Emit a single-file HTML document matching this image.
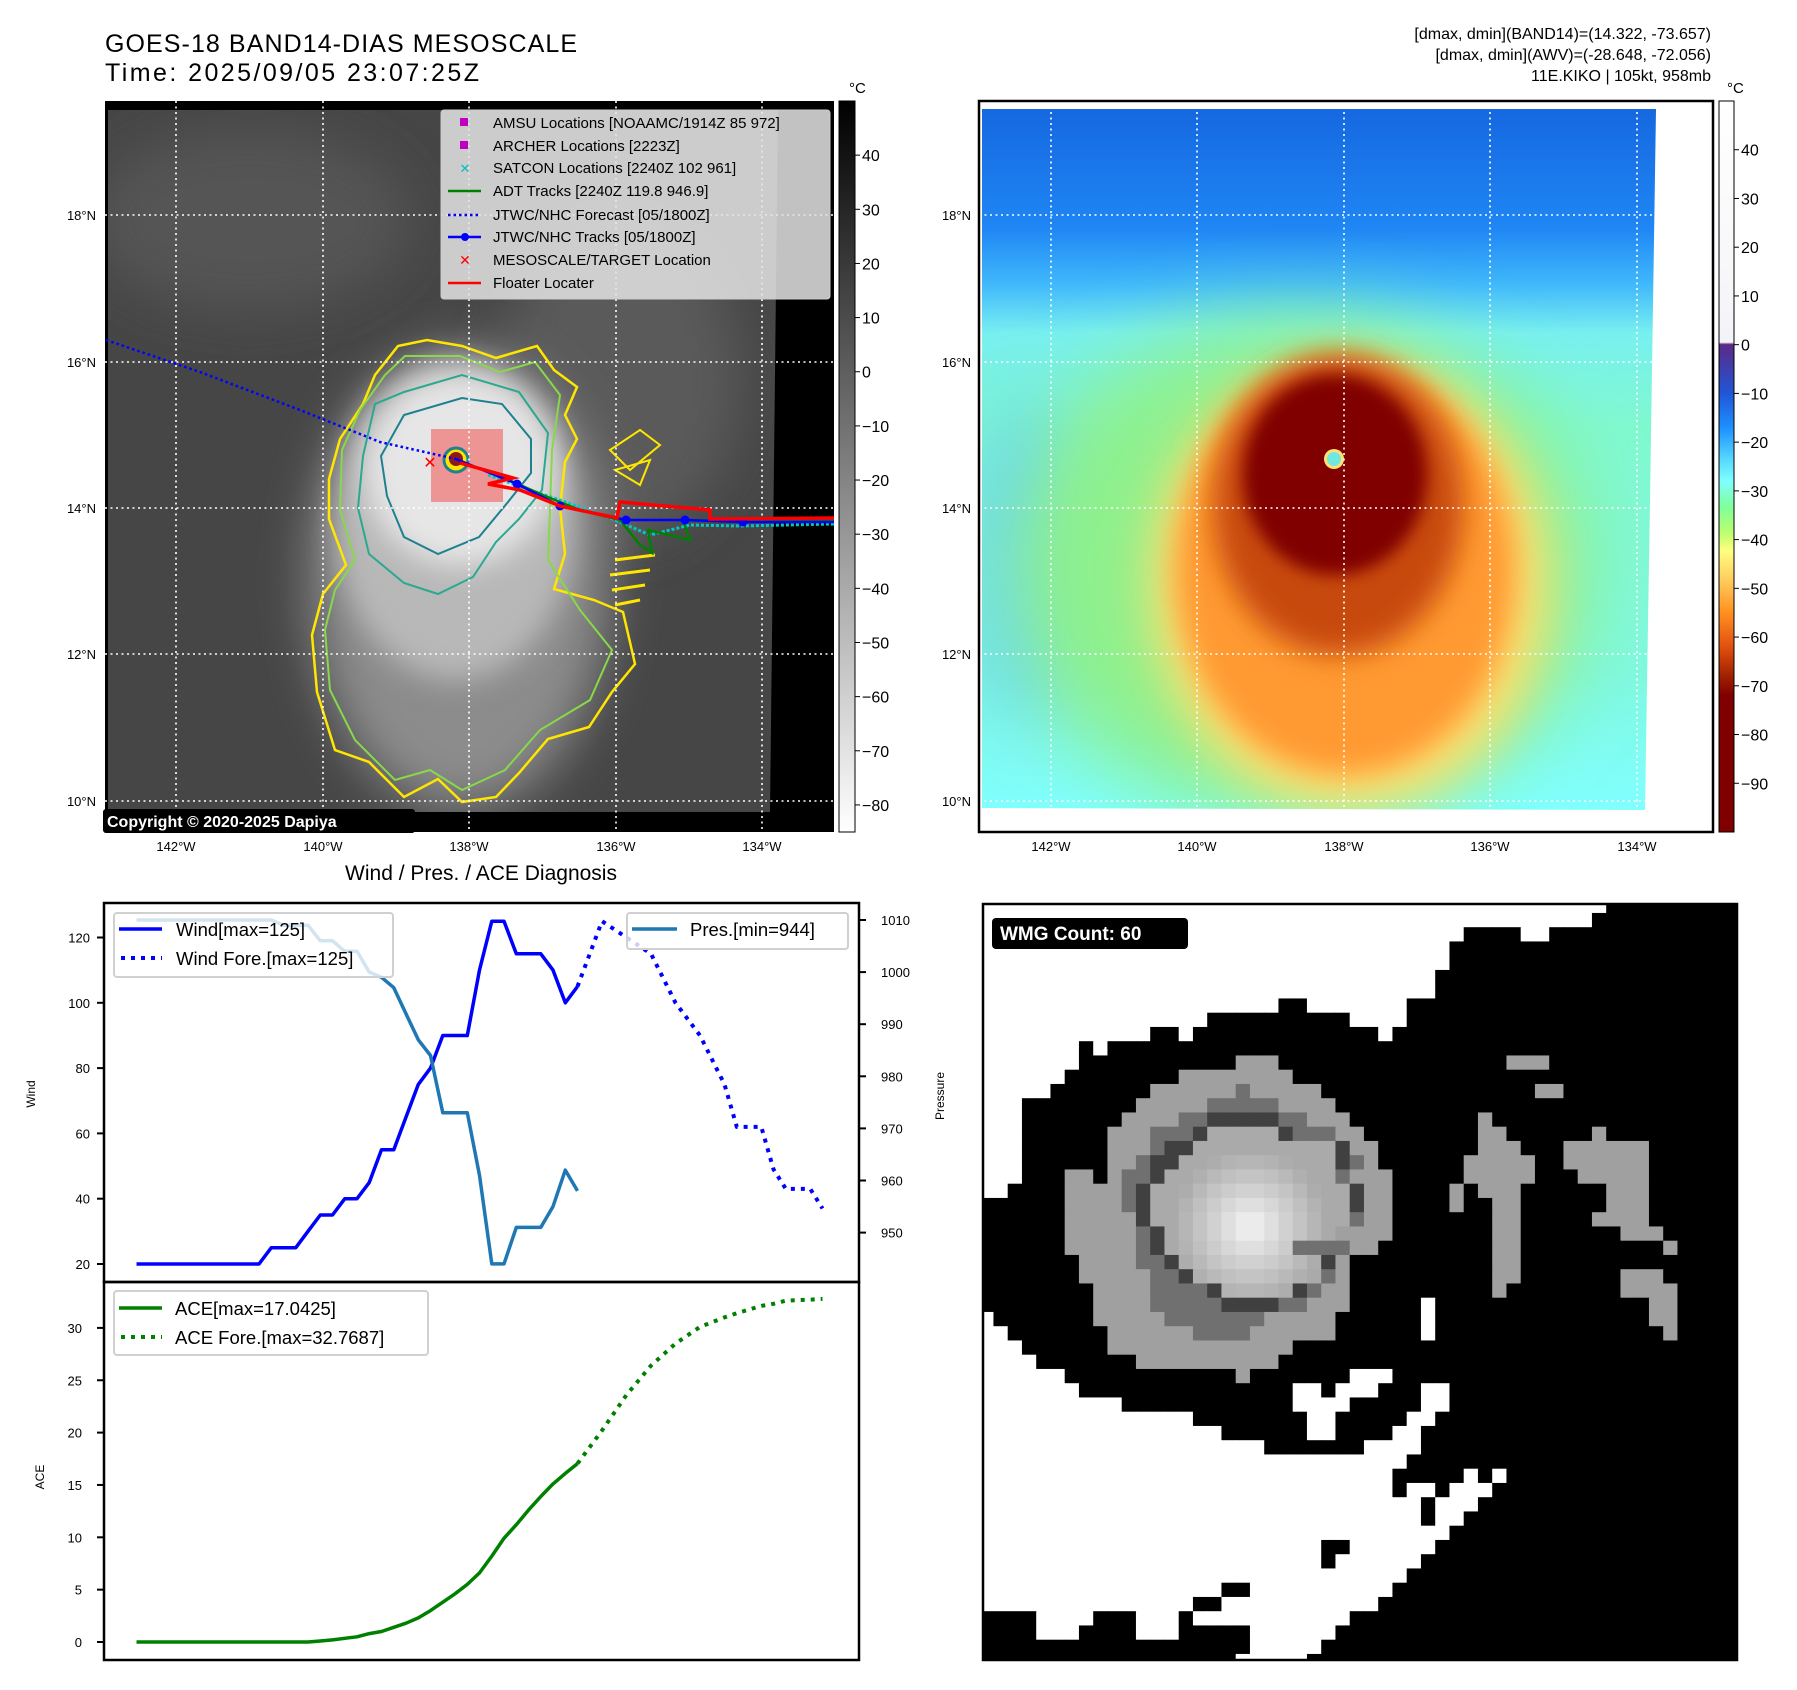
<!DOCTYPE html>
<html><head><meta charset="utf-8">
<style>
html,body{margin:0;padding:0;background:#fff;}
svg{display:block;font-family:"Liberation Sans","DejaVu Sans",sans-serif;}
</style></head>
<body>
<svg id="root" xmlns="http://www.w3.org/2000/svg" width="1797" height="1690" viewBox="0 0 1797 1690">
<defs>
  <linearGradient id="grayBar" x1="0" y1="0" x2="0" y2="1">
    <stop offset="0" stop-color="#000"/><stop offset="1" stop-color="#fff"/>
  </linearGradient>
  <linearGradient id="colorBar" x1="0" y1="0" x2="0" y2="1">
    <stop offset="0" stop-color="#ffffff"/>
    <stop offset="0.33" stop-color="#f4f4f8"/>
    <stop offset="0.333" stop-color="#5a2a86"/>
    <stop offset="0.40" stop-color="#2156d6"/>
    <stop offset="0.447" stop-color="#1e90ff"/>
    <stop offset="0.49" stop-color="#55d8ff"/>
    <stop offset="0.52" stop-color="#80ffff"/>
    <stop offset="0.555" stop-color="#80ff9a"/>
    <stop offset="0.59" stop-color="#b8ff70"/>
    <stop offset="0.615" stop-color="#ffff80"/>
    <stop offset="0.653" stop-color="#ffd060"/>
    <stop offset="0.70" stop-color="#ff9020"/>
    <stop offset="0.747" stop-color="#e05010"/>
    <stop offset="0.787" stop-color="#a02000"/>
    <stop offset="0.813" stop-color="#800000"/>
    <stop offset="1" stop-color="#800000"/>
  </linearGradient>
  <linearGradient id="envBase" x1="0" y1="109" x2="0" y2="810" gradientUnits="userSpaceOnUse">
    <stop offset="0" stop-color="#1668e0"/>
    <stop offset="0.17" stop-color="#1f86f4"/>
    <stop offset="0.25" stop-color="#40b8fb"/>
    <stop offset="0.32" stop-color="#78f0f0"/>
    <stop offset="0.45" stop-color="#80f8d0"/>
    <stop offset="0.8" stop-color="#80f8e0"/>
    <stop offset="1" stop-color="#80ffff"/>
  </linearGradient>
  <filter id="blur8" x="-1" y="-1" width="3" height="3"><feGaussianBlur stdDeviation="8"/></filter>
  <filter id="blur14" x="-1" y="-1" width="3" height="3"><feGaussianBlur stdDeviation="14"/></filter>
  <filter id="blur25" x="-1" y="-1" width="3" height="3"><feGaussianBlur stdDeviation="25"/></filter>
  <filter id="blur40" x="-1" y="-1" width="3" height="3"><feGaussianBlur stdDeviation="40"/></filter>
  <clipPath id="leftMapClip"><polygon points="108,110 778,110 770,812 108,812"/></clipPath>
  <clipPath id="leftFrameClip"><rect x="105" y="101" width="729" height="731"/></clipPath>
  <clipPath id="rightMapClip"><polygon points="982,109 1656,109 1650,500 1645,810 982,808"/></clipPath>
  <clipPath id="wmgClip"><rect x="983" y="904" width="754" height="756"/></clipPath>
</defs>

<text x="105" y="52" font-size="25" textLength="472">GOES-18 BAND14-DIAS MESOSCALE</text>
<text x="105" y="81" font-size="25" textLength="374">Time: 2025/09/05 23:07:25Z</text>
<g font-size="16" text-anchor="end">
  <text x="1711" y="39">[dmax, dmin](BAND14)=(14.322, -73.657)</text>
  <text x="1711" y="60">[dmax, dmin](AWV)=(-28.648, -72.056)</text>
  <text x="1711" y="81">11E.KIKO | 105kt, 958mb</text>
</g>

<!-- LEFT MAP -->
<g id="leftMap">
  <rect x="105" y="101" width="729" height="731" fill="#000"/>
  <g clip-path="url(#leftMapClip)">
    <rect x="108" y="110" width="670" height="702" fill="#464646"/>
    <ellipse cx="250" cy="220" rx="160" ry="90" fill="#555" filter="url(#blur25)"/>
    <ellipse cx="620" cy="380" rx="120" ry="160" fill="#5a5a5a" filter="url(#blur25)"/>
    <ellipse cx="460" cy="580" rx="150" ry="230" fill="#8c8c8c" filter="url(#blur25)"/>
    <ellipse cx="455" cy="520" rx="120" ry="160" fill="#b8b8b8" filter="url(#blur14)"/>
    <ellipse cx="460" cy="470" rx="95" ry="95" fill="#e6e6e6" filter="url(#blur14)"/>
    <path d="M398,346 L427,340 L462,346 L496,358 L537,346 L554,370 L577,387 L565,415 L577,439 L565,462 L560,508 L565,554 L554,589 L594,600 L623,612 L635,664 L612,692 L589,727 L548,739 L519,773 L496,797 L462,802 L438,779 L404,797 L369,762 L335,750 L317,692 L312,635 L323,594 L346,565 L329,519 L329,479 L340,439 L363,404 L375,375 Z" fill="none" stroke="#ffe600" stroke-width="2.5"/>
    <path d="M405,356 L460,356 L500,372 L535,362 L560,395 L552,450 L550,510 L548,560 L580,610 L612,650 L590,700 L540,730 L505,770 L462,790 L430,770 L395,780 L355,740 L330,690 L325,630 L335,590 L355,560 L340,510 L342,450 L360,410 L385,375 Z" fill="none" stroke="#88d84a" stroke-width="2"/>
    <path d="M375,404 L404,392 L462,375 L519,392 L548,433 L542,490 L519,519 L496,542 L473,577 L438,594 L404,583 L369,554 L358,508 L363,456 Z" fill="none" stroke="#2aa890" stroke-width="2"/>
    <path d="M404,415 L462,398 L502,404 L531,439 L531,473 L508,502 L479,537 L438,554 L404,537 L387,496 L381,456 Z" fill="none" stroke="#1f8090" stroke-width="2"/>
    <path d="M610,450 L640,430 L660,445 L630,470 Z M615,470 L650,460 L640,485 Z" fill="none" stroke="#ffe600" stroke-width="2"/>
    <path d="M615,560 L655,555 M610,575 L650,570 M612,590 L645,585 M615,605 L640,600" stroke="#ffe600" stroke-width="3"/>
    <rect x="431" y="429" width="72" height="73" fill="#f07070" fill-opacity="0.7"/>
    <circle cx="456" cy="460" r="12" fill="#ffe600" stroke="#1f8090" stroke-width="3"/>
    <circle cx="456" cy="459" r="7" fill="#8b1a1a"/>
  </g>
  <g stroke="#fff" stroke-width="1.6" stroke-dasharray="2,3.5" fill="none">
    <line x1="176" y1="101" x2="176" y2="832"/><line x1="323" y1="101" x2="323" y2="832"/><line x1="469" y1="101" x2="469" y2="832"/><line x1="616" y1="101" x2="616" y2="832"/><line x1="762" y1="101" x2="762" y2="832"/>
    <line x1="105" y1="215" x2="834" y2="215"/><line x1="105" y1="362" x2="834" y2="362"/><line x1="105" y1="508" x2="834" y2="508"/><line x1="105" y1="654" x2="834" y2="654"/><line x1="105" y1="801" x2="834" y2="801"/>
  </g>
  <g clip-path="url(#leftFrameClip)">
    <polyline points="106,340 200,372 300,410 380,442 456,459" fill="none" stroke="#0000ff" stroke-width="2.5" stroke-dasharray="2.5,3"/>
    <polyline points="488,475 530,490 560,500 610,518 650,535 690,525 740,526 834,524" fill="none" stroke="#00c8c8" stroke-width="3" stroke-dasharray="3,2"/>
    <polyline points="500,476 545,496 580,510 620,520 640,545 652,553 648,530 690,540 683,520 740,522 834,520" fill="none" stroke="#008000" stroke-width="2.5"/>
    <polyline points="456,459 517,484 560,506 626,520 685,520 743,522 834,522" fill="none" stroke="#0000ff" stroke-width="2.5"/>
    <g fill="#0000ff"><circle cx="517" cy="484" r="4.5"/><circle cx="560" cy="506" r="4.5"/><circle cx="626" cy="520" r="4.5"/><circle cx="685" cy="520" r="4.5"/><circle cx="743" cy="522" r="4.5"/></g>
    <polyline points="460,463 513,478 488,484 520,490 560,506 617,518 620,502 710,510 710,519 834,518" fill="none" stroke="#ff0000" stroke-width="3.5"/>
    <text x="430" y="468" font-size="16" font-weight="bold" fill="#ff0000" text-anchor="middle">✕</text>
  </g>
  <rect x="103" y="809" width="312" height="24" rx="3" fill="#000"/>
  <text x="107" y="827" font-size="16" font-weight="bold" fill="#fff">Copyright © 2020-2025 Dapiya</text>
  <g>
    <rect x="441" y="110" width="389" height="189" rx="3" fill="#e4e4e4" fill-opacity="0.85" stroke="#ccc"/>
    <g font-size="15">
      <rect x="460" y="118" width="8" height="8" fill="#c000c0"/>
      <text x="493" y="128">AMSU Locations [NOAAMC/1914Z 85 972]</text>
      <rect x="460" y="141" width="8" height="8" fill="#c000c0"/>
      <text x="493" y="151">ARCHER Locations [2223Z]</text>
      <text x="465" y="173" font-size="13" fill="#00c0c0" text-anchor="middle">✕</text>
      <text x="493" y="173">SATCON Locations [2240Z 102 961]</text>
      <line x1="448" y1="191" x2="481" y2="191" stroke="#008000" stroke-width="2.5"/>
      <text x="493" y="196">ADT Tracks [2240Z 119.8 946.9]</text>
      <line x1="448" y1="215" x2="481" y2="215" stroke="#0000ff" stroke-width="2.5" stroke-dasharray="2.5,3"/>
      <text x="493" y="220">JTWC/NHC Forecast [05/1800Z]</text>
      <line x1="448" y1="237" x2="481" y2="237" stroke="#0000ff" stroke-width="2.5"/><circle cx="465" cy="237" r="4" fill="#0000ff"/>
      <text x="493" y="242">JTWC/NHC Tracks [05/1800Z]</text>
      <text x="465" y="265" font-size="14" font-weight="bold" fill="#ff0000" text-anchor="middle">✕</text>
      <text x="493" y="265">MESOSCALE/TARGET Location</text>
      <line x1="448" y1="283" x2="481" y2="283" stroke="#ff0000" stroke-width="2.5"/>
      <text x="493" y="288">Floater Locater</text>
    </g>
  </g>
  <g font-size="13" text-anchor="end">
    <text x="96" y="220">18°N</text><text x="96" y="367">16°N</text><text x="96" y="513">14°N</text><text x="96" y="659">12°N</text><text x="96" y="806">10°N</text>
  </g>
  <g font-size="13" text-anchor="middle">
    <text x="176" y="851">142°W</text><text x="323" y="851">140°W</text><text x="469" y="851">138°W</text><text x="616" y="851">136°W</text><text x="762" y="851">134°W</text>
  </g>
  <rect x="839" y="101" width="16" height="731" fill="url(#grayBar)" stroke="#000" stroke-width="1"/>
  <text x="849" y="93" font-size="15">°C</text>
  <g id="leftCbTicks" font-size="16"></g>
</g>

<!-- RIGHT MAP -->
<g id="rightMap">
  <rect x="979" y="101" width="734" height="731" fill="#fff"/>
  <g clip-path="url(#rightMapClip)">
    <rect x="979" y="105" width="680" height="710" fill="url(#envBase)"/>
    <ellipse cx="1030" cy="560" rx="60" ry="160" fill="#60c8ff" filter="url(#blur40)" opacity="0.8"/>
    <ellipse cx="1300" cy="570" rx="290" ry="250" fill="#8ef08c" filter="url(#blur40)"/>
    <ellipse cx="1350" cy="585" rx="200" ry="225" fill="#ffe070" filter="url(#blur25)"/>
    <ellipse cx="1345" cy="570" rx="170" ry="205" fill="#ff9a30" filter="url(#blur14)"/>
    <ellipse cx="1338" cy="505" rx="125" ry="150" fill="#c84a10" filter="url(#blur14)"/>
    <ellipse cx="1335" cy="475" rx="92" ry="100" fill="#800000" filter="url(#blur8)"/>
    <circle cx="1334" cy="459" r="10" fill="#ffe070"/>
    <circle cx="1334" cy="459" r="7" fill="#70e8e0"/>
  </g>
  <g stroke="#fff" stroke-width="1.6" stroke-dasharray="2,3.5" fill="none">
    <line x1="1051" y1="101" x2="1051" y2="832"/><line x1="1197" y1="101" x2="1197" y2="832"/><line x1="1344" y1="101" x2="1344" y2="832"/><line x1="1490" y1="101" x2="1490" y2="832"/><line x1="1637" y1="101" x2="1637" y2="832"/>
    <line x1="979" y1="215" x2="1713" y2="215"/><line x1="979" y1="362" x2="1713" y2="362"/><line x1="979" y1="508" x2="1713" y2="508"/><line x1="979" y1="654" x2="1713" y2="654"/><line x1="979" y1="801" x2="1713" y2="801"/>
  </g>
  <rect x="979" y="101" width="734" height="731" fill="none" stroke="#000" stroke-width="2.5"/>
  <g font-size="13" text-anchor="end">
    <text x="971" y="220">18°N</text><text x="971" y="367">16°N</text><text x="971" y="513">14°N</text><text x="971" y="659">12°N</text><text x="971" y="806">10°N</text>
  </g>
  <g font-size="13" text-anchor="middle">
    <text x="1051" y="851">142°W</text><text x="1197" y="851">140°W</text><text x="1344" y="851">138°W</text><text x="1490" y="851">136°W</text><text x="1637" y="851">134°W</text>
  </g>
  <rect x="1719" y="101" width="15" height="731" fill="url(#colorBar)" stroke="#000" stroke-width="1"/>
  <text x="1727" y="93" font-size="15">°C</text>
  <g id="rightCbTicks" font-size="16"></g>
</g>

<!-- DIAGNOSIS CHART -->
<text x="481" y="880" font-size="21" text-anchor="middle">Wind / Pres. / ACE Diagnosis</text>
<g id="chart">
  <rect x="104" y="903" width="755" height="379" fill="#fff"/>
  <rect x="104" y="1282" width="755" height="378" fill="#fff"/>
  <g id="chartMarks"></g>
  <rect x="104" y="903" width="755" height="379" fill="none" stroke="#000" stroke-width="2.5"/>
  <rect x="104" y="1282" width="755" height="378" fill="none" stroke="#000" stroke-width="2.5"/>
  <g id="chartAxes" font-size="13"></g>
  <text transform="translate(35,1094) rotate(-90)" font-size="12" text-anchor="middle">Wind</text>
  <text transform="translate(944,1096) rotate(-90)" font-size="12" text-anchor="middle">Pressure</text>
  <text transform="translate(44,1477) rotate(-90)" font-size="12" text-anchor="middle">ACE</text>
  <g>
    <rect x="114" y="913" width="279" height="64" rx="3" fill="#fff" fill-opacity="0.8" stroke="#d0d0d0" stroke-width="2"/>
    <line x1="119" y1="929" x2="162" y2="929" stroke="#0000ff" stroke-width="3.5"/>
    <text x="176" y="936" font-size="18.5">Wind[max=125]</text>
    <line x1="121" y1="958" x2="162" y2="958" stroke="#0000ff" stroke-width="4" stroke-dasharray="4,6"/>
    <text x="176" y="965" font-size="18.5">Wind Fore.[max=125]</text>
  </g>
  <g>
    <rect x="627" y="913" width="221" height="36" rx="3" fill="#fff" fill-opacity="0.8" stroke="#d0d0d0" stroke-width="2"/>
    <line x1="632" y1="929" x2="677" y2="929" stroke="#1f77b4" stroke-width="3.5"/>
    <text x="690" y="936" font-size="18.5">Pres.[min=944]</text>
  </g>
  <g>
    <rect x="114" y="1291" width="314" height="64" rx="3" fill="#fff" fill-opacity="0.8" stroke="#d0d0d0" stroke-width="2"/>
    <line x1="119" y1="1308" x2="162" y2="1308" stroke="#008000" stroke-width="3.5"/>
    <text x="175" y="1315" font-size="18.5">ACE[max=17.0425]</text>
    <line x1="121" y1="1337" x2="162" y2="1337" stroke="#008000" stroke-width="4" stroke-dasharray="4,6"/>
    <text x="175" y="1344" font-size="18.5">ACE Fore.[max=32.7687]</text>
  </g>
</g>

<!-- WMG -->
<g id="wmg">
  <rect x="983" y="904" width="754" height="756" fill="#fff"/>
  <g id="wmgCells" clip-path="url(#wmgClip)"></g>
  <rect x="983" y="904" width="754" height="756" fill="none" stroke="#000" stroke-width="2.5"/>
  <rect x="992" y="918" width="196" height="31" rx="4" fill="#000"/>
  <text x="1000" y="940" font-size="19" font-weight="bold" fill="#fff">WMG Count: 60</text>
</g>

<script>
const obsIndex = [0,1,2,3,4,5,6,7,8,9,10,11,12,13,14,15,16,17,18,19,20,21,22,23,24,25,26,27,28,29,30,31,32,33,34,35,36];
const windObs = [20,20,20,20,20,20,20,20,20,20,20,25,25,25,30,35,35,40,40,45,55,55,65,75,80,90,90,90,110,125,125,115,115,115,110,100,105];
const presObs = [1010,1010,1010,1010,1010,1010,1010,1010,1010,1010,1010,1010,1009,1009,1009,1006,1006,1004,1004,1000,999,997,992,987,984,973,973,973,961,944,944,951,951,951,955,962,958];
const aceObs = [0,0,0,0,0,0,0,0,0,0,0,0,0,0,0,0.1,0.2,0.35,0.5,0.8,1.0,1.4,1.8,2.3,3.0,3.8,4.6,5.5,6.6,8.2,9.9,11.2,12.6,13.9,15.1,16.1,17.04];
const foreIndex = [36,38,40,42,44,46,48,49,51,52,53,55,56];
const windFore = [105,125,120,115,100,90,75,62,62,49,43,43,37];
const aceFore = [17.04,20.2,23.6,26.4,28.5,30.1,31.0,31.4,32.1,32.3,32.6,32.7,32.77];
const windTicks = [20,40,60,80,100,120];
const presTicks = [950,960,970,980,990,1000,1010];
const aceTicks = [0,5,10,15,20,25,30];
const leftCbTicks = [40,30,20,10,0,-10,-20,-30,-40,-50,-60,-70,-80];
const rightCbTicks = [40,30,20,10,0,-10,-20,-30,-40,-50,-60,-70,-80,-90];

const wmgRows = [
"W0-43","W0-42","W0-33,W38-39","W0-32","W0-32","W0-31","W0-31","W0-20,W23-29","W0-15,W26-29","W0-11,W14,W28",
"W0-6,W8","W0-6,G18-20,G37-39","W0-5,G14-21","W0-4,G12-23,D18,G39-40","W0-2,G11-24,D16-20",
"W0-2,G10-25,D14-15,E16-20,D21-22,G35","W0-2,G9-26,D12-14,E15,L16-20,E21,D22-24,G35-36,G43",
"W0-2,G9-27,D12,E13-14,L15-24,E25,G35-37,G41-46","W0-2,G9-27,D11,E12-13,L14-24,E25,D26,G34-38,G41-46",
"W0-2,G6-7,G9-28,D10-11,E12,L13-24,D25,G34-38,G42-46","W0-1,G6-9,D10,E11,L12-25,E26,G27-28,G33,G35-37,G44-46",
"G6-9,D10,E11,L12-25,E26,G27-28,G33,G36-37,G44-46","G6-10,E11,L12-25,D26,G27-28,G36-37,G43-46",
"G6-10,D11,E12,L13-24,G25-28,G36-37,G45-47","G6-10,D11,E12,L13-21,D22-25,G26-27,G36-37,G48",
"G7-10,D11-12,E13,L14-23,E24,G25,G36-37","G7-11,D12-13,E14,L15-23,D24,G25,G36-37,G45-47",
"G8-11,D12-15,E16,L17-21,E22,D23,G24-25,G36,G45-48","G8-11,D12-16,E17-20,D21-22,G23-25,W31,G47-48",
"W0,G8-12,D13-19,G20-24,W31,G47-48","W0-1,G9-14,D15-18,G19-24,W31,G48","W0-2,G9-21","W0-3,G11-20",
"W0-5,G18,W26-28","W0-6,W22-23,W25-27,W31-32","W0-9,W22-25,W31-32","W0-14,W23-24,W30-31","W0-16,W23-24,W29-30",
"W0-19,W27-30","W0-29","W0-28,W34,W36","W0-28,W30-31,W33-35","W0-30,W32-34","W0-30,W32-33","W0-32",
"W0-23,W26-31","W0-23,W25-30","W0-29","W0-16,W19-28","W0-14,W17-27","W4-7,W11-13,W15-25","W4-6,W11-13,W19-24",
"W19-23","W18-22"
];

const NS = 'http://www.w3.org/2000/svg';
function mk(tag, attrs, parent) {
  const e = document.createElementNS(NS, tag);
  for (const k in attrs) e.setAttribute(k, attrs[k]);
  parent.appendChild(e);
  return e;
}

const xS = n => 136.5 + n * 12.25;
const windY = v => 1264 - (v - 20) * 3.265;
const presY = p => 920 + (1010 - p) * 5.21;
const aceY = a => 1642 - a * 10.47;

const marks = document.getElementById('chartMarks');
const axes = document.getElementById('chartAxes');

function line(idx, vals, yf, color, dashed, name) {
  const pts = idx.map((n, i) => xS(n).toFixed(1) + ',' + yf(vals[i]).toFixed(1)).join(' ');
  const attrs = {points: pts, fill: 'none', stroke: color, 'stroke-width': dashed ? 4 : 3.5, 'stroke-linejoin': 'round'};
  if (dashed) attrs['stroke-dasharray'] = '4,6';
  const p = mk('polyline', attrs, marks);
  
  
}
line(obsIndex, windObs, windY, '#0000ff', false, 'wind-line');
line(foreIndex, windFore, windY, '#0000ff', true, 'wind-forecast-line');
line(obsIndex, presObs, presY, '#1f77b4', false, 'pressure-line');
line(obsIndex, aceObs, aceY, '#008000', false, 'ace-line');
line(foreIndex, aceFore, aceY, '#008000', true, 'ace-forecast-line');

windTicks.forEach(v => {
  const y = windY(v);
  const t = mk('line', {x1: 97, x2: 104, y1: y, y2: y, stroke: '#000', 'stroke-width': 2}, axes);
  
  
  const l = mk('text', {x: 90, y: y + 5, 'text-anchor': 'end'}, axes);
  l.textContent = v;
  
  
});
presTicks.forEach(v => {
  const y = presY(v);
  const t = mk('line', {x1: 859, x2: 866, y1: y, y2: y, stroke: '#000', 'stroke-width': 2}, axes);
  
  
  const l = mk('text', {x: 881, y: y + 5}, axes);
  l.textContent = v;
  
  
});
aceTicks.forEach(v => {
  const y = aceY(v);
  const t = mk('line', {x1: 97, x2: 104, y1: y, y2: y, stroke: '#000', 'stroke-width': 2}, axes);
  
  
  const l = mk('text', {x: 82, y: y + 5, 'text-anchor': 'end'}, axes);
  l.textContent = v;
  
  
});

const lcb = document.getElementById('leftCbTicks');
leftCbTicks.forEach(v => {
  const y = 101 + (50 - v) * 731 / 135;
  const t = mk('line', {x1: 855, x2: 860, y1: y, y2: y, stroke: '#000', 'stroke-width': 1}, lcb);
  
  
  const l = mk('text', {x: 862, y: y + 6}, lcb);
  l.textContent = v < 0 ? '\u2212' + (-v) : v;
  
  
});
const rcb = document.getElementById('rightCbTicks');
rightCbTicks.forEach(v => {
  const y = 101 + (50 - v) * 731 / 150;
  const t = mk('line', {x1: 1734, x2: 1739, y1: y, y2: y, stroke: '#000', 'stroke-width': 1}, rcb);
  
  
  const l = mk('text', {x: 1741, y: y + 6}, rcb);
  l.textContent = v < 0 ? '\u2212' + (-v) : v;
  
  
});

const wmg = document.getElementById('wmgCells');
const CELL = 14.25, GX0 = 979.2, GY0 = 898.7, NCOL = 54;
const shade = {K: '#000', W: '#fff', G: '#a0a0a0', D: '#707070', E: '#404040'};
wmgRows.forEach((spec, r) => {
  const row = new Array(NCOL).fill('K');
  spec.split(',').forEach(seg => {
    const code = seg[0];
    const [a, b] = seg.slice(1).split('-').map(Number);
    const end = isNaN(b) ? a : b;
    for (let c = a; c <= end; c++) row[c] = code;
  });
  row.forEach((code, c) => {
    let fill = shade[code];
    if (code === 'L') {
      const d = Math.hypot(c - 18.5, r - 22.5);
      const g = Math.round(Math.max(170, 245 - d * 14));
      fill = 'rgb(' + g + ',' + g + ',' + g + ')';
    }
    const cell = mk('rect', {x: (GX0 + c * CELL).toFixed(2), y: (GY0 + r * CELL).toFixed(2), width: CELL + 0.5, height: CELL + 0.5, fill: fill}, wmg);
    
    
  });
});
</script>
</svg>
</body></html>
